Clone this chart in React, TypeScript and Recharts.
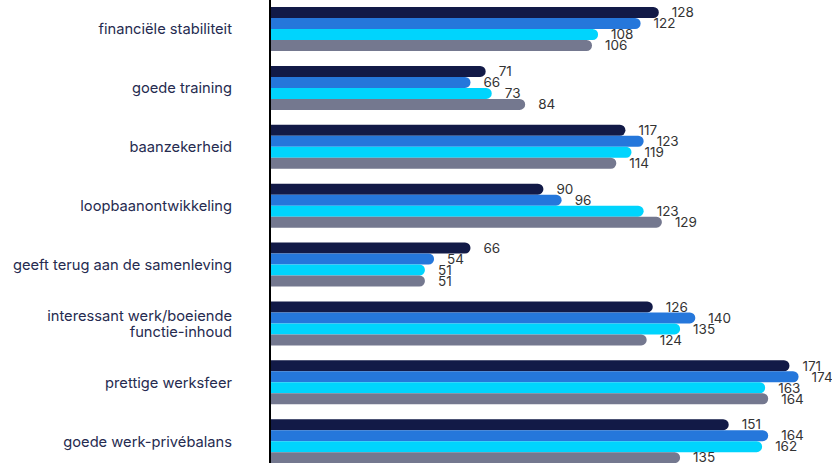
import React from 'react';
import { BarChart, Bar, XAxis, YAxis, LabelList } from 'recharts';

const categories = [
  'financiële stabiliteit',
  'goede training',
  'baanzekerheid',
  'loopbaanontwikkeling',
  'geeft terug aan de samenleving',
  'interessant werk/boeiende functie-inhoud',
  'prettige werksfeer',
  'goede werk-privébalans',
];

const seriesA = [128, 71, 117, 90, 66, 126, 171, 151];
const seriesB = [122, 66, 123, 96, 54, 140, 174, 164];
const seriesC = [108, 73, 119, 123, 51, 135, 163, 162];
const seriesD = [106, 84, 114, 129, 51, 124, 164, 135];

const seriesKeys = ['a', 'b', 'c', 'd'];
const seriesColors = ['#121a47', '#2577db', '#00d4fd', '#74788f'];

const data = categories.map((name, i) => ({
  name,
  a: seriesA[i],
  b: seriesB[i],
  c: seriesC[i],
  d: seriesD[i],
}));

const FONT = 'Inter, "Noto Sans", sans-serif';

function wrap(text: string, maxChars: number): string[] {
  if (text.length <= maxChars) return [text];
  const words = text.split(' ');
  const lines: string[] = [];
  let cur = '';
  for (const w of words) {
    const next = cur ? cur + ' ' + w : w;
    if (next.length > maxChars && cur) {
      lines.push(cur);
      cur = w;
    } else {
      cur = next;
    }
  }
  if (cur) lines.push(cur);
  return lines;
}

const CategoryTick = (props: any) => {
  const { x, y, payload } = props;
  const lines = wrap(String(payload.value), 30);
  const lh = 15.5;
  const startDy = -((lines.length - 1) * lh) / 2;
  return (
    <text
      x={x}
      y={y}
      textAnchor="end"
      fill="#262b50"
      fontFamily={FONT}
      fontSize={14.7}
      dominantBaseline="central"
    >
      {lines.map((l, i) => (
        <tspan key={i} x={x} dy={i === 0 ? startDy : lh}>
          {l}
        </tspan>
      ))}
    </text>
  );
};

export default function App() {
  return (
    <div style={{ position: 'absolute', left: 0, top: 0, width: 832, height: 463, overflow: 'hidden', background: '#fff' }}>
      <BarChart
        width={832}
        height={471}
        data={data}
        layout="vertical"
        margin={{ top: 0, right: 0, bottom: 0, left: 0 }}
        barGap={0}
        barSize={11}
      >
        <XAxis type="number" domain={[0, 185]} hide />
        <YAxis
          type="category"
          dataKey="name"
          width={270}
          axisLine={{ stroke: '#000', strokeWidth: 2 }}
          tickLine={false}
          tickMargin={32}
          tick={<CategoryTick />}
          interval={0}
        />
        {seriesKeys.map((k, i) => (
          <Bar
            key={k}
            dataKey={k}
            fill={seriesColors[i]}
            radius={[0, 6, 6, 0]}
            isAnimationActive={false}
          >
            <LabelList
              dataKey={k}
              position="right"
              offset={13}
              fill="#333"
              fontFamily={FONT}
              fontSize={13.5}
            />
          </Bar>
        ))}
      </BarChart>
    </div>
  );
}
